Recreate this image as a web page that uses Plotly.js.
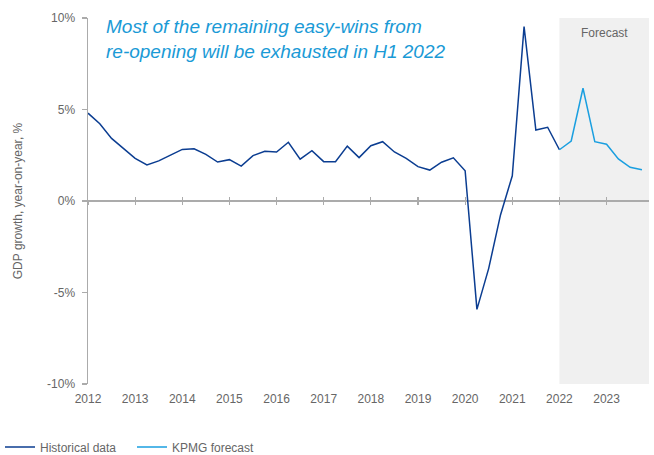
<!DOCTYPE html>
<html>
<head>
<meta charset="utf-8">
<script src="https://cdn.plot.ly/plotly-3.0.1.min.js"></script>
<style>html,body{margin:0;padding:0;background:#fff}#chart{width:654px;height:455px}</style>
</head>
<body>
<div id="chart"></div>
<script>
// Quarterly positions (fractional years)
const histQuarters = [2012.00,2012.25,2012.50,2012.75,2013.00,2013.25,2013.50,2013.75,2014.00,2014.25,2014.50,2014.75,2015.00,2015.25,2015.50,2015.75,2016.00,2016.25,2016.50,2016.75,2017.00,2017.25,2017.50,2017.75,2018.00,2018.25,2018.50,2018.75,2019.00,2019.25,2019.50,2019.75,2020.00,2020.25,2020.50,2020.75,2021.00,2021.25,2021.50,2021.75,2022.00];
const histValues = [4.8,4.22,3.42,2.85,2.33,1.97,2.19,2.51,2.82,2.85,2.55,2.13,2.26,1.91,2.48,2.72,2.68,3.21,2.29,2.75,2.15,2.15,3.0,2.37,3.02,3.24,2.68,2.33,1.88,1.69,2.12,2.36,1.65,-5.92,-3.68,-0.76,1.38,9.53,3.88,4.03,2.8];
const fcQuarters = [2022.00,2022.25,2022.50,2022.75,2023.00,2023.25,2023.50,2023.75];
const fcValues = [2.8,3.28,6.16,3.24,3.1,2.3,1.84,1.71];
const yearTicks = [2012,2013,2014,2015,2016,2017,2018,2019,2020,2021,2022,2023];
const yTicks = [-10,-5,0,5,10];
const yTickLabels = ['-10%','-5%','0%','5%','10%'];
const forecastStart = 2022;
const xRange = [2012, 2023.9];
const yRange = [-10, 10];

const grey = '#666666';
const axisGrey = '#ababab';

const traces = [
  {x: histQuarters, y: histValues, type: 'scatter', mode: 'lines', name: 'Historical data',
   line: {color: '#0b3d91', width: 1.5}},
  {x: fcQuarters, y: fcValues, type: 'scatter', mode: 'lines', name: 'KPMG forecast',
   line: {color: '#1a9fe0', width: 1.5}},
  // empty helper traces so the tick-only overlay axes (on the zero line) are drawn
  {x: [], y: [], type: 'scatter', mode: 'lines', xaxis: 'x2', yaxis: 'y', showlegend: false, hoverinfo: 'skip'},
  {x: [], y: [], type: 'scatter', mode: 'lines', xaxis: 'x3', yaxis: 'y', showlegend: false, hoverinfo: 'skip'}
];

const layout = {
  width: 654, height: 455,
  margin: {l: 88, r: 5, t: 18, b: 71},
  paper_bgcolor: '#ffffff', plot_bgcolor: 'rgba(0,0,0,0)',
  font: {family: 'Liberation Sans, Arial, sans-serif', color: grey, size: 12},
  showlegend: true,
  legend: {orientation: 'h', xref: 'container', yref: 'container', x: 0, y: 0.0176, xanchor: 'left', yanchor: 'middle',
           font: {size: 12, color: grey}, entrywidth: 87, itemwidth: 30},
  xaxis: {range: xRange, tickvals: yearTicks, ticktext: yearTicks.map(String), showgrid: false, zeroline: false,
          showline: false, ticks: '', ticklabelstandoff: 6, tickfont: {size: 12, color: grey}, fixedrange: true},
  xaxis2: {range: xRange, overlaying: 'x', anchor: 'free', position: 0.5, side: 'bottom', tickvals: yearTicks,
           showticklabels: false, ticks: 'outside', ticklen: 3, tickcolor: axisGrey, tickwidth: 1.2, showgrid: false, zeroline: false, showline: false},
  xaxis3: {range: xRange, overlaying: 'x', anchor: 'free', position: 0.5, side: 'bottom', tickvals: yearTicks,
           showticklabels: false, ticks: 'inside', ticklen: 4, tickcolor: axisGrey, tickwidth: 1.2, showgrid: false, zeroline: false, showline: false},
  yaxis: {range: yRange, tickvals: yTicks, ticktext: yTickLabels, showgrid: false, zeroline: true, zerolinecolor: axisGrey,
          zerolinewidth: 1.5, showline: true, linecolor: axisGrey, linewidth: 1.5, ticks: 'outside', ticklen: 5, tickcolor: axisGrey,
          tickwidth: 1.2, ticklabelstandoff: 4, tickfont: {size: 12, color: grey},
          title: {text: 'GDP growth, year-on-year, %', font: {size: 12, color: grey}, standoff: 22}},
  shapes: [
    {type: 'rect', xref: 'x', yref: 'y', x0: forecastStart, x1: xRange[1], y0: yRange[0], y1: yRange[1],
     fillcolor: '#f0f0f0', line: {width: 0}, layer: 'below'}
  ],
  annotations: [
    {xref: 'paper', yref: 'paper', x: 0.029, y: 1.012, xanchor: 'left', yanchor: 'top', align: 'left', showarrow: false,
     text: 'Most of the remaining easy-wins from<br>re-opening will be exhausted in H1 2022',
     font: {size: 19, color: '#1a9ad6', style: 'italic'}},
    {xref: 'x', yref: 'paper', x: (forecastStart + xRange[1]) / 2, y: 0.96, xanchor: 'center', yanchor: 'middle', showarrow: false,
     text: 'Forecast', font: {size: 12, color: grey}}
  ]
};

Plotly.newPlot('chart', traces, layout, {displayModeBar: false, staticPlot: true});
</script>
</body>
</html>
